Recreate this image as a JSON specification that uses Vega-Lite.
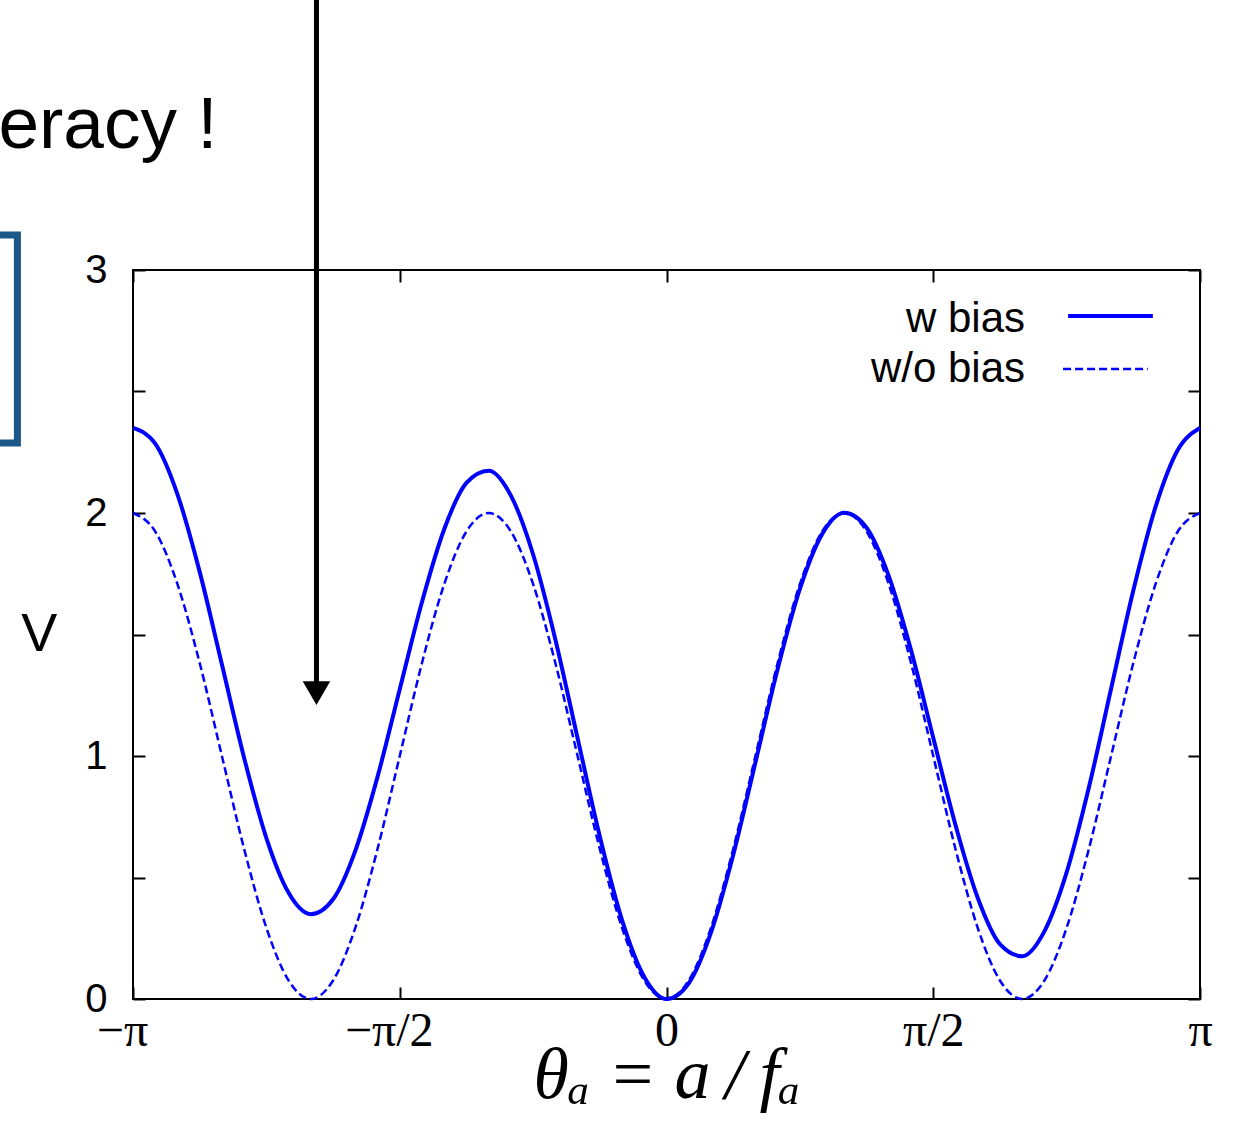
{
  "$schema": "https://vega.github.io/schema/vega-lite/v6.json",
  "autosize": "none",
  "width": 1067,
  "height": 729,
  "padding": {"left": 133, "top": 270, "right": 39, "bottom": 133},
  "background": "white",
  "datasets": {
    "withBias": [
      {"theta": -180, "V": 2.35}, {"theta": -172.5, "V": 2.2855}, {"theta": -165, "V": 2.077},
      {"theta": -157.5, "V": 1.7577}, {"theta": -150, "V": 1.3766}, {"theta": -142.5, "V": 0.992},
      {"theta": -135, "V": 0.6623}, {"theta": -127.5, "V": 0.4369}, {"theta": -120, "V": 0.3491},
      {"theta": -112.5, "V": 0.4105}, {"theta": -105, "V": 0.6098}, {"theta": -97.5, "V": 0.9142},
      {"theta": -90, "V": 1.275}, {"theta": -82.5, "V": 1.634}, {"theta": -75, "V": 1.9334},
      {"theta": -67.5, "V": 2.1243}, {"theta": -60, "V": 2.1741}, {"theta": -52.5, "V": 2.0717},
      {"theta": -45, "V": 1.8291}, {"theta": -37.5, "V": 1.4798}, {"theta": -30, "V": 1.0734},
      {"theta": -22.5, "V": 0.6689}, {"theta": -15, "V": 0.3248}, {"theta": -7.5, "V": 0.0907},
      {"theta": 0, "V": 0}, {"theta": 7.5, "V": 0.0645}, {"theta": 15, "V": 0.273},
      {"theta": 22.5, "V": 0.5923}, {"theta": 30, "V": 0.9734}, {"theta": 37.5, "V": 1.358},
      {"theta": 45, "V": 1.6877}, {"theta": 52.5, "V": 1.9131}, {"theta": 60, "V": 2.0009},
      {"theta": 67.5, "V": 1.9395}, {"theta": 75, "V": 1.7402}, {"theta": 82.5, "V": 1.4358},
      {"theta": 90, "V": 1.075}, {"theta": 97.5, "V": 0.716}, {"theta": 105, "V": 0.4166},
      {"theta": 112.5, "V": 0.2257}, {"theta": 120, "V": 0.1759}, {"theta": 127.5, "V": 0.2783},
      {"theta": 135, "V": 0.5209}, {"theta": 142.5, "V": 0.8702}, {"theta": 150, "V": 1.2766},
      {"theta": 157.5, "V": 1.6811}, {"theta": 165, "V": 2.0252}, {"theta": 172.5, "V": 2.2593},
      {"theta": 180, "V": 2.35}
    ],
    "withoutBias": [
      {"theta": -180, "V": 2}, {"theta": -172.5, "V": 1.9239}, {"theta": -165, "V": 1.7071},
      {"theta": -157.5, "V": 1.3827}, {"theta": -150, "V": 1}, {"theta": -142.5, "V": 0.6173},
      {"theta": -135, "V": 0.2929}, {"theta": -127.5, "V": 0.0761}, {"theta": -120, "V": 0},
      {"theta": -112.5, "V": 0.0761}, {"theta": -105, "V": 0.2929}, {"theta": -97.5, "V": 0.6173},
      {"theta": -90, "V": 1}, {"theta": -82.5, "V": 1.3827}, {"theta": -75, "V": 1.7071},
      {"theta": -67.5, "V": 1.9239}, {"theta": -60, "V": 2}, {"theta": -52.5, "V": 1.9239},
      {"theta": -45, "V": 1.7071}, {"theta": -37.5, "V": 1.3827}, {"theta": -30, "V": 1},
      {"theta": -22.5, "V": 0.6173}, {"theta": -15, "V": 0.2929}, {"theta": -7.5, "V": 0.0761},
      {"theta": 0, "V": 0}, {"theta": 7.5, "V": 0.0761}, {"theta": 15, "V": 0.2929},
      {"theta": 22.5, "V": 0.6173}, {"theta": 30, "V": 1}, {"theta": 37.5, "V": 1.3827},
      {"theta": 45, "V": 1.7071}, {"theta": 52.5, "V": 1.9239}, {"theta": 60, "V": 2},
      {"theta": 67.5, "V": 1.9239}, {"theta": 75, "V": 1.7071}, {"theta": 82.5, "V": 1.3827},
      {"theta": 90, "V": 1}, {"theta": 97.5, "V": 0.6173}, {"theta": 105, "V": 0.2929},
      {"theta": 112.5, "V": 0.0761}, {"theta": 120, "V": 0}, {"theta": 127.5, "V": 0.0761},
      {"theta": 135, "V": 0.2929}, {"theta": 142.5, "V": 0.6173}, {"theta": 150, "V": 1},
      {"theta": 157.5, "V": 1.3827}, {"theta": 165, "V": 1.7071}, {"theta": 172.5, "V": 1.9239},
      {"theta": 180, "V": 2}
    ]
  },
  "layer": [
    {
      "data": {"values": [{}]},
      "mark": {"type": "rect", "fill": "transparent", "stroke": "#1b5787", "strokeWidth": 7},
      "encoding": {
        "x": {"datum": -400, "type": "quantitative", "axis": null},
        "x2": {"datum": -219},
        "y": {"datum": 3.144, "type": "quantitative", "axis": null},
        "y2": {"datum": 2.288}
      }
    },
    {
      "data": {"values": [{}]},
      "mark": {"type": "text", "text": "degeneracy !", "align": "right", "baseline": "alphabetic", "font": "Liberation Sans", "fontSize": 73, "color": "black"},
      "encoding": {
        "x": {"datum": -151.5, "type": "quantitative", "axis": null},
        "y": {"datum": 3.502, "type": "quantitative", "axis": null}
      }
    },
    {
      "data": {"name": "withoutBias"},
      "mark": {"type": "line", "interpolate": "monotone", "color": "#0000ff", "strokeWidth": 2.5, "strokeDash": [8, 4]},
      "encoding": {
        "x": {
          "field": "theta", "type": "quantitative",
          "scale": {"domain": [-180, 180], "nice": false, "zero": false},
          "axis": {"orient": "top", "values": [-180, -90, 0, 90, 180], "labels": false, "tickSize": -12, "tickWidth": 2, "tickColor": "black", "domain": false, "grid": false, "title": null}
        },
        "y": {
          "field": "V", "type": "quantitative",
          "scale": {"domain": [0, 3], "nice": false, "zero": false},
          "axis": {"orient": "right", "values": [0, 0.5, 1, 1.5, 2, 2.5, 3], "labels": false, "tickSize": -12, "tickWidth": 2, "tickColor": "black", "domain": false, "grid": false, "title": null}
        }
      }
    },
    {
      "data": {"name": "withBias"},
      "mark": {"type": "line", "interpolate": "monotone", "color": "#0000ff", "strokeWidth": 4},
      "encoding": {
        "x": {
          "field": "theta", "type": "quantitative",
          "axis": {
            "orient": "bottom", "values": [-180, -90, 0, 90, 180],
            "labelExpr": "datum.value === -180 ? '−π' : datum.value === -90 ? '−π/2' : datum.value === 0 ? '0' : datum.value === 90 ? 'π/2' : 'π'",
            "labelFont": "Liberation Serif", "labelFontSize": 48, "labelColor": "black",
            "labelFlush": false, "labelOverlap": false, "labelPadding": 20,
            "labelOffset": {"condition": {"test": "datum.value < 0", "value": -11}, "value": 0},
            "tickSize": -12, "tickWidth": 2, "tickColor": "black", "domain": false, "grid": false,
            "title": "θₐ = a\u2009/\u2009fₐ", "titleFont": "Liberation Serif", "titleFontStyle": "italic",
            "titleFontWeight": "normal", "titleFontSize": 72, "titleColor": "black", "titlePadding": -15
          }
        },
        "y": {
          "field": "V", "type": "quantitative",
          "axis": {
            "orient": "left", "values": [0, 0.5, 1, 1.5, 2, 2.5, 3],
            "labelExpr": "datum.value % 1 === 0 ? '' + datum.value : ''",
            "labelFont": "Liberation Sans", "labelFontSize": 40, "labelColor": "black",
            "labelFlush": false, "labelOverlap": false, "labelPadding": 38,
            "tickSize": -12, "tickWidth": 2, "tickColor": "black", "domain": false, "grid": false,
            "title": "V", "titleAngle": 0, "titleAlign": "right", "titleBaseline": "middle",
            "titleFont": "Liberation Sans", "titleFontSize": 54, "titleFontWeight": "normal",
            "titleColor": "black", "titlePadding": 28
          }
        }
      }
    },
    {
      "data": {"values": [{}]},
      "mark": {"type": "text", "text": "w bias", "align": "right", "baseline": "alphabetic", "font": "Liberation Sans", "fontSize": 42, "color": "black"},
      "encoding": {
        "x": {"datum": 120.96, "type": "quantitative", "axis": null},
        "y": {"datum": 2.745, "type": "quantitative", "axis": null}
      }
    },
    {
      "data": {"values": [{}]},
      "mark": {"type": "text", "text": "w/o bias", "align": "right", "baseline": "alphabetic", "font": "Liberation Sans", "fontSize": 42, "color": "black"},
      "encoding": {
        "x": {"datum": 120.96, "type": "quantitative", "axis": null},
        "y": {"datum": 2.539, "type": "quantitative", "axis": null}
      }
    },
    {
      "data": {"values": [{}]},
      "mark": {"type": "rule", "color": "#0000ff", "strokeWidth": 4},
      "encoding": {
        "x": {"datum": 135.5, "type": "quantitative", "axis": null},
        "x2": {"datum": 164.1},
        "y": {"datum": 2.811, "type": "quantitative", "axis": null}
      }
    },
    {
      "data": {"values": [{}]},
      "mark": {"type": "rule", "color": "#0000ff", "strokeWidth": 2.5, "strokeDash": [8, 4]},
      "encoding": {
        "x": {"datum": 133.8, "type": "quantitative", "axis": null},
        "x2": {"datum": 162.4},
        "y": {"datum": 2.593, "type": "quantitative", "axis": null}
      }
    },
    {
      "data": {"values": [{}]},
      "mark": {"type": "rule", "color": "black", "strokeWidth": 5},
      "encoding": {
        "x": {"datum": -118.1, "type": "quantitative", "axis": null},
        "y": {"datum": 4.3, "type": "quantitative", "axis": null},
        "y2": {"datum": 1.27}
      }
    },
    {
      "data": {"values": [{}]},
      "mark": {"type": "point", "shape": "triangle-down", "size": 760, "filled": true, "color": "black", "opacity": 1, "strokeWidth": 0},
      "encoding": {
        "x": {"datum": -118.1, "type": "quantitative", "axis": null},
        "y": {"datum": 1.259, "type": "quantitative", "axis": null}
      }
    }
  ],
  "resolve": {"axis": {"x": "independent", "y": "independent"}},
  "config": {
    "view": {"stroke": "black", "strokeWidth": 2},
    "axis": {"grid": false, "domain": false}
  }
}
